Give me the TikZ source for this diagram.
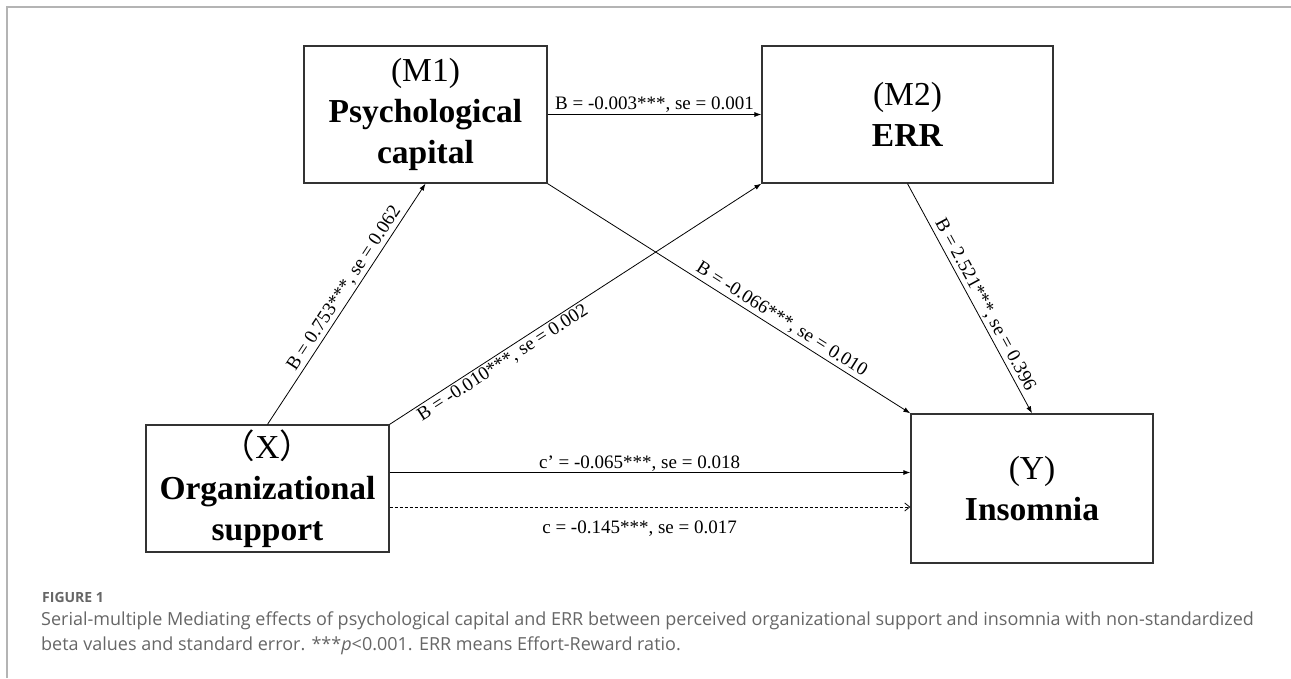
\documentclass[tikz,border=0pt]{standalone}
\usepackage{fontspec}
\setmainfont{Liberation Serif}
\newfontfamily\capfont{Open Sans}
\newfontfamily\cjkfont{Noto Sans CJK SC}
\usetikzlibrary{arrows.meta,positioning,calc}
\definecolor{framegray}{HTML}{B4B4B4}
\definecolor{capgray}{HTML}{666666}

\begin{document}
\begin{tikzpicture}[x=1pt,y=-1pt,
	varbox/.style={draw=black!80,line width=1.3pt,inner sep=0pt,align=center,font=\fontsize{33.5}{41}\selectfont},
	effect/.style={line width=0.8pt,-{Latex[length=7pt,width=5pt]}},
	total/.style={line width=0.8pt,dash pattern=on 3pt off 2pt,-{Straight Barb[length=5pt,width=8pt]}},
	coef/.style={font=\fontsize{19}{22}\selectfont,inner sep=2pt}]
	\useasboundingbox (0,0) rectangle (1291,678);

	\begin{scope} % page frame
		\draw[framegray,line width=1.5pt] (7,678) -- (7,7) -- (1291,7);
	\end{scope}

	\begin{scope} % Variables
		\node[varbox,minimum width=243pt,minimum height=137pt] (M1) at (425.5,114.5) {(M1)\\\textbf{Psychological}\\\textbf{capital}};
		\node[varbox,minimum width=291pt,minimum height=137pt] (M2) at (907.5,114.5) {(M2)\\\textbf{ERR}};
		\node[varbox,minimum width=243pt,minimum height=127pt] (X) at (267.5,488.5) {{\cjkfont （}X{\cjkfont ）}\\\textbf{Organizational}\\\textbf{support}};
		\node[varbox,minimum width=242pt,minimum height=149pt] (Y) at (1032,488.5) {(Y)\\\textbf{Insomnia}};
	\end{scope}

	\begin{scope} % Paths
		\draw[effect] (M1.east) -- (M2.west) node[coef,midway,above] {B = -0.003***, se = 0.001};
		\draw[effect] (X.north) -- (M1.south) node[coef,pos=0.54,sloped,above] {B = 0.753***, se = 0.062};
		\draw[effect] (X.north east) -- (M2.south west) node[coef,pos=0.29,sloped,below] {B = -0.010***, se = 0.002};
		\draw[effect] (M1.south east) -- (Y.north west) node[coef,pos=0.63,sloped,above] {B = -0.066***, se = 0.010};
		\draw[effect] (M2.south) -- (Y.north) node[coef,pos=0.55,sloped,above] {B = 2.521***, se = 0.396};
	\end{scope}

	\begin{scope} % Direct and total effect
		\draw[effect] ([yshift=16pt]X.east) -- ([yshift=16pt]Y.west) node[coef,pos=0.48,above,inner sep=1pt] {c’ = -0.065***, se = 0.018};
		\draw[total] ([yshift=-18.5pt]X.east) -- ([yshift=-18.5pt]Y.west) node[coef,pos=0.48,below=11pt] {c = -0.145***, se = 0.017};
	\end{scope}

	\begin{scope}[text=capgray,inner sep=0pt] % Caption
		\node[anchor=base west,font=\capfont\bfseries\fontsize{14}{16}\selectfont] (fig) at (42,602) {FIGURE 1};
		\node[anchor=base west,font=\capfont\fontsize{18}{25}\selectfont] (cap1) at (41,625) {Serial-multiple Mediating effects of psychological capital and ERR between perceived organizational support and insomnia with non-standardized};
		\node[anchor=base west,font=\capfont\fontsize{18}{25}\selectfont] (cap2) at (41,650) {beta values and standard error. ***\textit{p}<0.001. ERR means Effort-Reward ratio.};
	\end{scope}
\end{tikzpicture}
\end{document}
